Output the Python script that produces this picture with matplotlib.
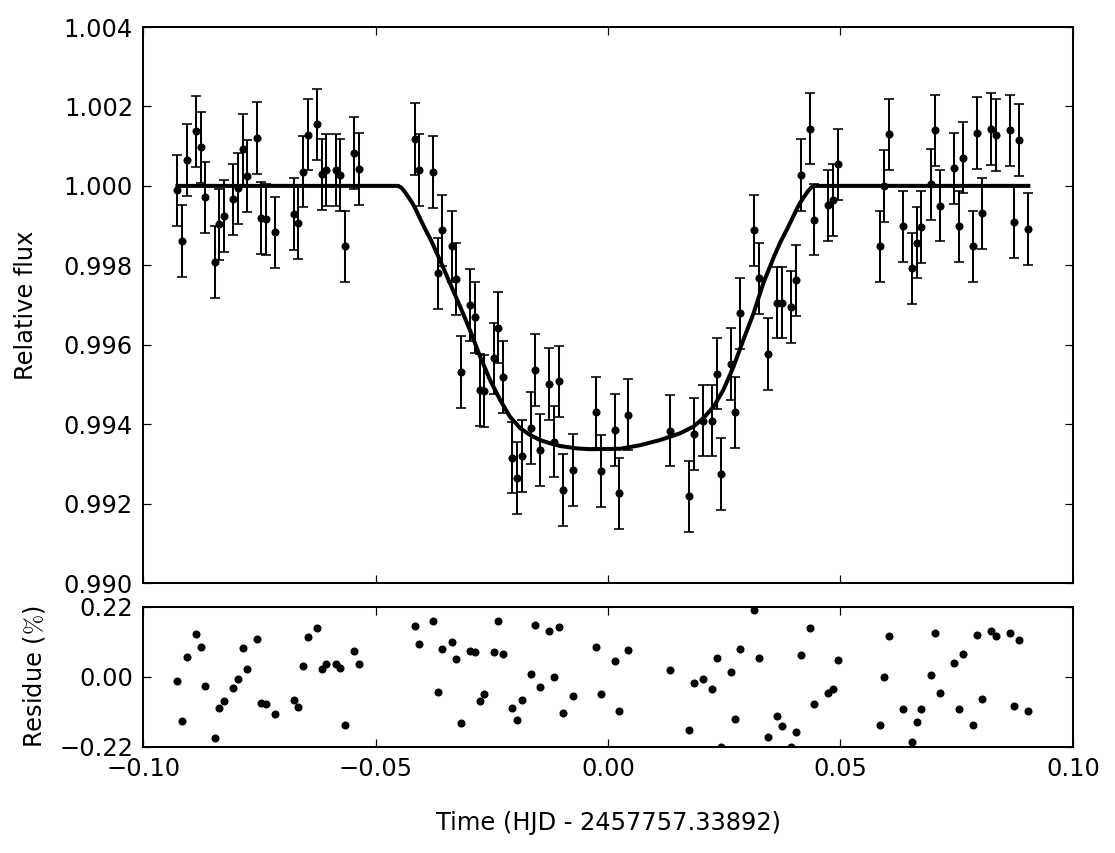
import matplotlib
matplotlib.use("Agg")
import matplotlib.pyplot as plt

# ----- data ---------------------------------------------------------

time = [-0.0926, -0.0916, -0.0906, -0.0886, -0.0876, -0.0866, -0.0846, -0.0836,
        -0.0826, -0.0806, -0.0796, -0.0786, -0.0776, -0.0756, -0.0746, -0.0736,
        -0.0716, -0.0676, -0.0666, -0.0656, -0.0646, -0.0626, -0.0616, -0.0606,
        -0.0586, -0.0576, -0.0566, -0.0546, -0.0536,
        -0.0416, -0.0406, -0.0376, -0.0366, -0.0356, -0.0336, -0.0326, -0.0316,
        -0.0296, -0.0286, -0.0276, -0.0266, -0.0246, -0.0236, -0.0226, -0.0206,
        -0.0196, -0.0186, -0.0166, -0.0156, -0.0146, -0.0126, -0.0116, -0.0106,
        -0.0096, -0.0076, -0.0026, -0.0016, 0.0014, 0.0024, 0.0044,
        0.0134, 0.0174, 0.0184, 0.0204, 0.0224, 0.0234, 0.0244, 0.0264, 0.0274,
        0.0284, 0.0314, 0.0324, 0.0344, 0.0364, 0.0374, 0.0394, 0.0404, 0.0414,
        0.0434, 0.0444, 0.0474, 0.0484, 0.0494,
        0.0584, 0.0594, 0.0604, 0.0634, 0.0654, 0.0664, 0.0674, 0.0694, 0.0704,
        0.0714, 0.0744, 0.0754, 0.0764, 0.0784, 0.0794, 0.0804, 0.0824, 0.0834,
        0.0864, 0.0874, 0.0884, 0.0904]

flux = [0.99989, 0.99861, 1.00065, 1.00137, 1.00097, 0.99971, 0.99808, 0.99903,
        0.99924, 0.99966, 0.99994, 1.00092, 1.00025, 1.00121, 0.99919, 0.99916,
        0.99883, 0.99929, 0.99906, 1.00036, 1.00129, 1.00155, 1.00029, 1.00040,
        1.00040, 1.00028, 0.99848, 1.00083, 1.00042,
        1.00118, 1.00040, 1.00035, 0.99780, 0.99888, 0.99848, 0.99766, 0.99531,
        0.99700, 0.99669, 0.99486, 0.99483, 0.99566, 0.99643, 0.99519, 0.99316,
        0.99264, 0.99320, 0.99390, 0.99536, 0.99335, 0.99501, 0.99356, 0.99508,
        0.99234, 0.99285, 0.99430, 0.99282, 0.99385, 0.99226, 0.99424,
        0.99384, 0.99218, 0.99375, 0.99409, 0.99409, 0.99527, 0.99274, 0.99551,
        0.99430, 0.99679, 0.99888, 0.99767, 0.99577, 0.99706, 0.99706, 0.99695,
        0.99762, 1.00027, 1.00144, 0.99915, 0.99951, 0.99964, 1.00054,
        0.99848, 1.00000, 1.00130, 0.99898, 0.99792, 0.99857, 0.99897, 1.00004,
        1.00140, 0.99950, 1.00044, 0.99898, 1.00071, 0.99848, 1.00133, 0.99931,
        1.00143, 1.00128, 1.00140, 0.99909, 1.00116, 0.99891]

flux_err = 0.0009

residue = [-0.012, -0.138, 0.064, 0.135, 0.095, -0.029, -0.191, -0.097,
           -0.074, -0.035, -0.007, 0.090, 0.025, 0.119, -0.081, -0.085,
           -0.116, -0.071, -0.094, 0.035, 0.126, 0.154, 0.026, 0.041,
           0.041, 0.027, -0.151, 0.083, 0.042,
           0.160, 0.105, 0.176, -0.048, 0.088, 0.109, 0.058, -0.146,
           0.081, 0.079, -0.075, -0.053, 0.077, 0.176, 0.071, -0.099,
           -0.136, -0.072, 0.010, 0.162, -0.032, 0.143, -0.001, 0.156,
           -0.113, -0.059, 0.093, -0.053, 0.051, -0.108, 0.086,
           0.022, -0.167, -0.018, -0.005, -0.038, 0.060, -0.219, 0.016,
           -0.131, 0.089, 0.209, 0.060, -0.190, -0.123, -0.153, -0.219,
           -0.173, 0.069, 0.153, -0.084, -0.049, -0.038, 0.054,
           -0.151, 0.001, 0.129, -0.101, -0.205, -0.143, -0.102, 0.005,
           0.139, -0.049, 0.044, -0.100, 0.071, -0.151, 0.133, -0.068,
           0.143, 0.128, 0.138, -0.090, 0.115, -0.108]

model_time = [-0.0926, -0.0451, -0.0444, -0.0437, -0.0430, -0.0422, -0.0415,
              -0.0408, -0.0394, -0.0379, -0.0365, -0.0351, -0.0340, -0.0318,
              -0.0297, -0.0275, -0.0254, -0.0232, -0.0211, -0.0189, -0.0168,
              -0.0146, -0.0125, -0.0103, -0.0067, -0.0039, 0.0026, 0.0069,
              0.0112, 0.0155, 0.0184, 0.0205, 0.0227, 0.0248, 0.0270, 0.0291,
              0.0313, 0.0334, 0.0357, 0.0371, 0.0386, 0.0400, 0.0407, 0.0414,
              0.0422, 0.0429, 0.0436, 0.0443, 0.0904]
model_flux = [1.0000, 1.0000, 0.99995, 0.99985, 0.99973, 0.99959, 0.99944,
              0.99927, 0.99893, 0.99859, 0.99822, 0.99785, 0.99755, 0.99696,
              0.99637, 0.99570, 0.99512, 0.99461, 0.99419, 0.99390, 0.99373,
              0.99360, 0.99352, 0.99345, 0.99339, 0.99337, 0.99338, 0.99347,
              0.99360, 0.99377, 0.99394, 0.99415, 0.99444, 0.99486, 0.99545,
              0.99612, 0.99679, 0.99755, 0.99822, 0.99859, 0.99893, 0.99927,
              0.99944, 0.99959, 0.99973, 0.99985, 0.99995, 1.0000, 1.0000]

flux_ticks = [0.990, 0.992, 0.994, 0.996, 0.998, 1.000, 1.002, 1.004]
res_ticks = [-0.22, 0.00, 0.22]
time_ticks = [-0.10, -0.05, 0.00, 0.05, 0.10]


def fmt(v, n):
    s = "%.*f" % (n, abs(v))
    return "\u2212" + s if v < 0 else s


# ----- style --------------------------------------------------------

plt.rcParams["font.family"] = ["DejaVu Sans"]
plt.rcParams["font.size"] = 12
plt.rcParams["mathtext.fontset"] = "cm"
plt.rcParams["axes.linewidth"] = 1.0
for a in ("xtick", "ytick"):
    plt.rcParams[a + ".direction"] = "in"
    plt.rcParams[a + ".major.size"] = 4
    plt.rcParams[a + ".major.width"] = 0.6
    plt.rcParams[a + ".major.pad"] = 5

fig = plt.figure(figsize=(1115 / 145, 853 / 145), dpi=145)
ax1 = fig.add_axes([0.1283, 0.3165, 0.834, 0.6518])
ax2 = fig.add_axes([0.1283, 0.1243, 0.834, 0.1641])

# ----- light curve --------------------------------------------------

ax1.errorbar(time, flux, yerr=flux_err, fmt="none", ecolor="k",
             elinewidth=1.0, capsize=2.6, capthick=0.8)
ax1.plot(time, flux, "o", color="k", ms=4.0, mew=0)
ax1.plot(model_time, model_flux, "k-", lw=2.0, solid_joinstyle="round")

ax1.set_xlim(-0.10, 0.10)
ax1.set_ylim(0.990, 1.004)
ax1.set_yticks(flux_ticks)
ax1.set_yticklabels([fmt(v, 3) for v in flux_ticks])
ax1.set_xticks(time_ticks)
ax1.tick_params(labelbottom=False, top=True, right=True)
ax1.set_ylabel("Relative flux")

# ----- residuals ----------------------------------------------------

ax2.plot(time, residue, "o", color="k", ms=4.0, mew=0)
ax2.set_xlim(-0.10, 0.10)
ax2.set_ylim(-0.22, 0.22)
ax2.set_yticks(res_ticks)
ax2.set_yticklabels([fmt(v, 2) for v in res_ticks])
ax2.set_xticks(time_ticks)
ax2.set_xticklabels([fmt(v, 2) for v in time_ticks])
ax2.tick_params(top=True, right=True)
ax2.set_ylabel(r"Residue ($\%$)")
ax2.set_xlabel("Time (HJD - 2457757.33892)", labelpad=15)

ax1.yaxis.set_label_coords(-0.113, 0.5)
ax2.yaxis.set_label_coords(-0.103, 0.5)

fig.savefig("out.png", dpi=145, facecolor="white")
